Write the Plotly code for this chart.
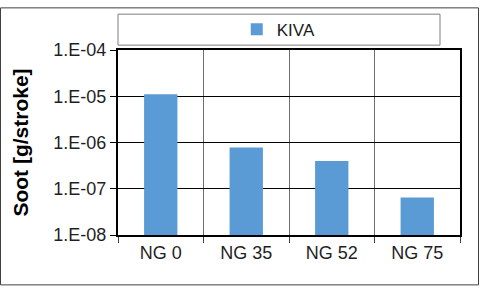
import plotly.graph_objects as go

categories = ["NG 0", "NG 35", "NG 52", "NG 75"]
kiva_soot = [1.1e-5, 7.8e-7, 4.0e-7, 6.5e-8]
y_tick_vals = [1e-8, 1e-7, 1e-6, 1e-5, 1e-4]
y_tick_text = ["1.E-08", "1.E-07", "1.E-06", "1.E-05", "1.E-04"]

W, H = 480, 288
L, R, T, B = 118, 20, 44, 53
pw, ph = W - L - R, H - T - B

def px_x(x):
    return (x - L) / pw

def px_y(y):
    return (H - B - y) / ph

fig = go.Figure()
fig.add_trace(go.Bar(
    x=categories, y=kiva_soot, name="KIVA",
    marker=dict(color="#5B9BD5", line=dict(width=0)),
    width=0.39,
))

fig.update_layout(
    width=W, height=H,
    margin=dict(l=L, r=R, t=T, b=B),
    paper_bgcolor="white", plot_bgcolor="white",
    font=dict(family="Arial, Liberation Sans, sans-serif", color="#262626"),
    showlegend=True,
    legend=dict(orientation="h", x=0.47, xanchor="center", y=px_y(23), yanchor="middle",
                font=dict(size=17, color="#1a1a1a"), bgcolor="rgba(0,0,0,0)",
                itemwidth=30),
    shapes=[
        dict(type="rect", xref="paper", yref="paper",
             x0=px_x(118), x1=px_x(440), y0=px_y(39), y1=px_y(7),
             line=dict(color="#7f7f7f", width=1), fillcolor="rgba(0,0,0,0)"),
        dict(type="rect", xref="paper", yref="paper",
             x0=px_x(0.5), x1=px_x(478.5), y0=px_y(286.5), y1=px_y(0.5),
             line=dict(color="#404040", width=1), fillcolor="rgba(0,0,0,0)"),
    ],
)

fig.update_xaxes(
    type="category", tickson="boundaries",
    showgrid=True, gridcolor="#6e6e6e", gridwidth=1,
    showline=True, linecolor="black", linewidth=2, mirror=True,
    ticks="outside", ticklen=6, tickcolor="#404040",
    tickfont=dict(size=18, color="#1f1f1f"),
)
fig.update_yaxes(
    type="log", range=[-8, -4],
    tickvals=y_tick_vals, ticktext=y_tick_text,
    showgrid=True, gridcolor="black", gridwidth=1,
    showline=True, linecolor="black", linewidth=2, mirror=True,
    ticks="outside", ticklen=6, tickcolor="black",
    tickfont=dict(size=18, color="#1f1f1f"),
    title=dict(text="<b>Soot [g/stroke]</b>", font=dict(size=21, color="black"), standoff=19),
)

fig.write_html("out.html", config={"displayModeBar": False},
               post_script="document.body.style.margin='0';document.body.style.padding='0';")
